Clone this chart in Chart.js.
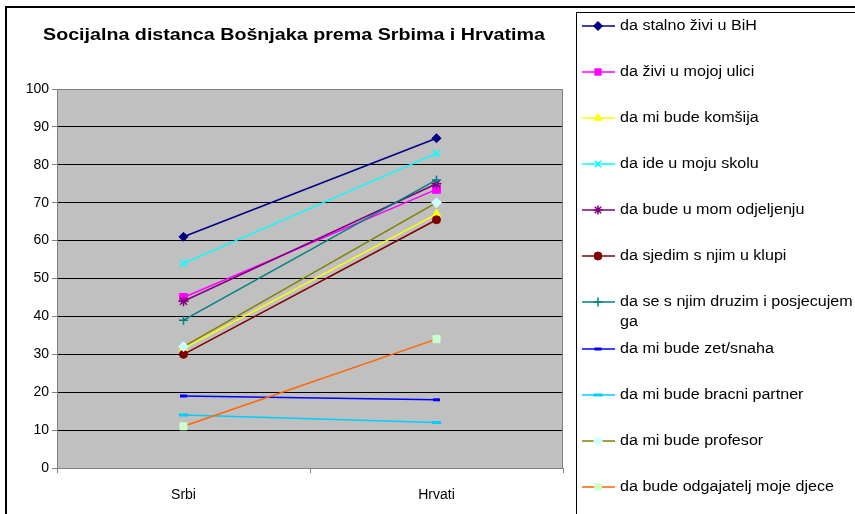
<!DOCTYPE html>
<html><head><meta charset="utf-8">
<script src="https://cdn.jsdelivr.net/npm/chart.js@4/dist/chart.umd.min.js"></script>
<style>html,body{margin:0;padding:0;background:#fff;overflow:hidden}canvas{display:block}</style>
</head><body>
<canvas id="c" width="855" height="514"></canvas>
<script>
// ---- data ----
const chartTitle = 'Socijalna distanca Bošnjaka prema Srbima i Hrvatima';
const categories = ['Srbi', 'Hrvati'];
const seriesNames = [
  'da stalno živi u BiH',
  'da živi u mojoj ulici',
  'da mi bude komšija',
  'da ide u moju skolu',
  'da bude u mom odjeljenju',
  'da sjedim s njim u klupi',
  'da se s njim druzim i posjecujem ga',
  'da mi bude zet/snaha',
  'da mi bude bracni partner',
  'da mi bude profesor',
  'da bude odgajatelj moje djece'
];
const srbiValues   = [61, 45, 31.5, 54, 44, 30, 39, 19, 14, 32, 11];
const hrvatiValues = [87, 73.5, 67, 83, 75, 65.5, 76, 18, 12, 70, 34];
const yTickMin = 0, yTickMax = 100, yTickStep = 10;

// ---- styles ----
const lineColors   = ['#000080','#FF00FF','#FFFF00','#00FFFF','#800080','#800000','#008080','#0000FF','#00CCFF','#808000','#FF6600'];
const markerFill   = ['#000080','#FF00FF','#FFFF00','#00FFFF','#800080','#800000','#008080','#0000FF','#00CCFF','#CCFFFF','#CCFFCC'];
const markerStroke = ['#000080','#FF00FF','#FFFF00','#00FFFF','#800080','#800000','#008080','#0000FF','#00CCFF','#CCFFFF','#CCFFCC'];
const markerStyle  = ['rectRot','rect','triangle','crossRot','star','circle','cross','line','line','rectRot','rect'];
const markerRadius = [4.5, 5.5, 5, 5, 5, 4, 4.5, 3.5, 4.5, 5, 5];
const markerBorderW= [1, 1, 1, 1.5, 1.5, 1, 1.5, 3, 3, 1, 1];
const legendRowY   = [26, 72, 118, 164, 210, 256, 302, 349, 395, 441, 487];

const FONT = "'Liberation Sans', Arial, sans-serif";

function drawStretchedText(ctx, text, x, y, font, sx, align) {
  ctx.save();
  ctx.font = font;
  ctx.textBaseline = 'middle';
  ctx.textAlign = 'left';
  const w = ctx.measureText(text).width * sx;
  let x0 = x;
  if (align === 'center') x0 = x - w / 2;
  ctx.translate(x0, y);
  ctx.scale(sx, 1);
  ctx.fillText(text, 0, 0);
  ctx.restore();
}

const backgroundPlugin = {
  id: 'bg',
  beforeDraw(chart) {
    const ctx = chart.ctx, a = chart.chartArea;
    ctx.save();
    ctx.fillStyle = '#fff';
    ctx.fillRect(0, 0, chart.width, chart.height);
    // outer chart border
    ctx.fillStyle = '#000';
    ctx.fillRect(5, 6, chart.width, 2);
    ctx.fillRect(5, 6, 2, chart.height);
    // plot area
    ctx.fillStyle = '#C0C0C0';
    ctx.fillRect(a.left, a.top, a.right - a.left, a.bottom - a.top);
    // title
    ctx.fillStyle = '#000';
    ctx.font = 'bold 17px ' + FONT;
    const tw = ctx.measureText(chartTitle).width;
    const sx = 502 / tw;
    drawStretchedText(ctx, chartTitle, 294, 35, 'bold 17px ' + FONT, sx, 'center');
    ctx.restore();
  },
  beforeDatasetsDraw(chart) {
    const ctx = chart.ctx, a = chart.chartArea;
    ctx.save();
    ctx.strokeStyle = '#808080';
    ctx.lineWidth = 1;
    ctx.beginPath();
    ctx.moveTo(Math.round(a.right) - 0.5, a.top);
    ctx.lineTo(Math.round(a.right) - 0.5, a.bottom);
    ctx.stroke();
    // left edge tick mark below x axis
    ctx.strokeStyle = '#808080';
    ctx.beginPath();
    ctx.moveTo(Math.round(a.left) + 0.5, a.bottom);
    ctx.lineTo(Math.round(a.left) + 0.5, a.bottom + 5);
    ctx.stroke();
    ctx.restore();
  }
};

const legendPlugin = {
  id: 'customLegend',
  afterDraw(chart) {
    const ctx = chart.ctx;
    ctx.save();
    ctx.strokeStyle = '#000';
    ctx.lineWidth = 1;
    ctx.strokeRect(576.5, 12.5, 400, 600);
    const dp = Chart.helpers && Chart.helpers.drawPoint;
    chart.data.datasets.forEach((ds, i) => {
      const y = legendRowY[i];
      ctx.strokeStyle = ds.borderColor;
      ctx.lineWidth = 1.5;
      ctx.beginPath();
      ctx.moveTo(582, y);
      ctx.lineTo(615, y);
      ctx.stroke();
      ctx.fillStyle = ds.pointBackgroundColor;
      ctx.strokeStyle = ds.pointBorderColor;
      ctx.lineWidth = ds.pointBorderWidth;
      if (dp) {
        dp(ctx, {pointStyle: ds.pointStyle, radius: Math.min(ds.pointRadius, 4.5), borderWidth: ds.pointBorderWidth, rotation: 0}, 598, y);
      } else {
        ctx.fillRect(595, y - 3, 6, 6);
      }
      ctx.fillStyle = '#000';
      const name = ds.label;
      if (name === 'da se s njim druzim i posjecujem ga') {
        drawStretchedText(ctx, 'da se s njim druzim i posjecujem', 620, y, '14px ' + FONT, 1.15);
        drawStretchedText(ctx, 'ga', 620, y + 20, '14px ' + FONT, 1.15);
      } else {
        drawStretchedText(ctx, name, 620, y, '14px ' + FONT, 1.15);
      }
    });
    ctx.restore();
  }
};

const datasets = seriesNames.map((name, i) => ({
  label: name,
  data: [srbiValues[i], hrvatiValues[i]],
  borderColor: lineColors[i],
  backgroundColor: markerFill[i],
  pointBackgroundColor: markerFill[i],
  pointBorderColor: markerStroke[i],
  pointStyle: markerStyle[i],
  pointRadius: markerRadius[i],
  pointBorderWidth: markerBorderW[i],
  borderWidth: 1.5,
  tension: 0,
  fill: false,
  order: seriesNames.length - 1 - i
}));

new Chart(document.getElementById('c'), {
  type: 'line',
  data: { labels: categories, datasets },
  options: {
    responsive: false,
    animation: false,
    devicePixelRatio: 1,
    layout: { padding: { left: 0, top: 89, right: 292, bottom: 0 } },
    plugins: { legend: { display: false }, title: { display: false }, tooltip: { enabled: false } },
    scales: {
      x: {
        offset: true,
        grid: { offset: true, drawOnChartArea: false, drawTicks: true, tickLength: 5, tickColor: '#808080', lineWidth: 1 },
        border: { color: '#808080', width: 1 },
        ticks: { font: { family: FONT, size: 14 }, color: '#000', padding: 14 },
        afterFit(s) { s.height = 46; }
      },
      y: {
        min: yTickMin, max: yTickMax,
        ticks: { stepSize: yTickStep, font: { family: FONT, size: 14 }, color: '#000', padding: 3 },
        grid: {
          color: (c) => (c.tick && (c.tick.value === yTickMin || c.tick.value === yTickMax)) ? '#808080' : '#000',
          lineWidth: 1, tickLength: 5, tickColor: '#808080'
        },
        border: { color: '#808080', width: 1 },
        afterFit(s) { s.width = 57; }
      }
    }
  },
  plugins: [backgroundPlugin, legendPlugin]
});
</script>
</body></html>
